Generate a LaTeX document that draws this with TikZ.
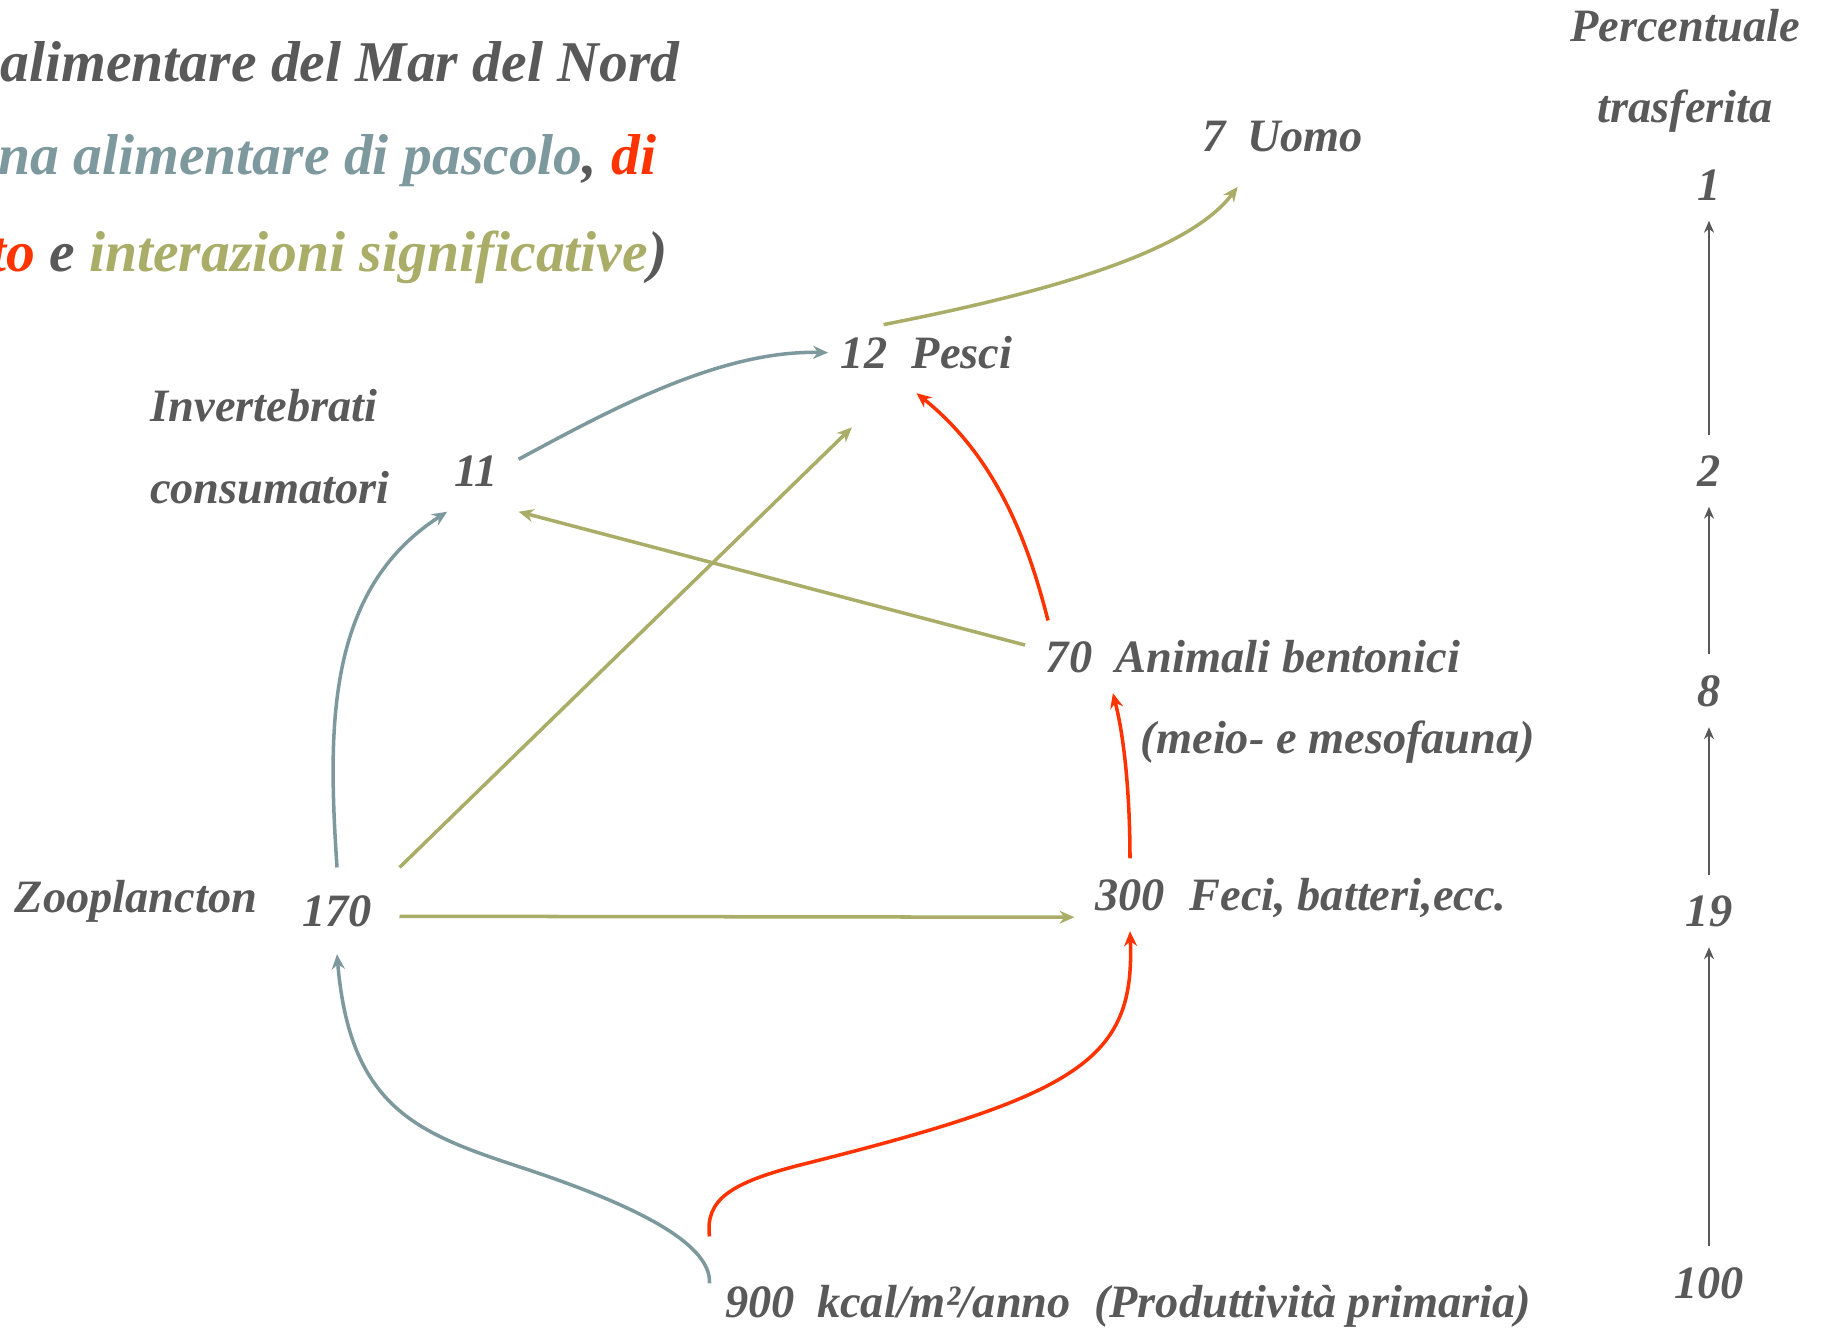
\documentclass[tikz,border=0pt]{standalone}
\usepackage{fontspec}
\setmainfont{Liberation Serif}
\usetikzlibrary{arrows.meta}
\definecolor{txtgray}{RGB}{89,89,89}
\definecolor{pascolo}{RGB}{126,153,158}
\definecolor{detrito}{RGB}{255,51,0}
\definecolor{interaz}{RGB}{169,173,104}
\tikzset{lbl/.style={anchor=base,inner sep=0pt,text=txtgray,font=\fontsize{13.2}{16}\selectfont\bfseries\itshape},
  num node/.style={lbl,inner sep=#1},
  titolo/.style={anchor=base east,inner sep=0pt,text=txtgray,font=\fontsize{16.4}{20}\selectfont\bfseries\itshape},
  flow/.style={line width=1pt,-{Stealth[length=1.5mm,width=1.3mm]}},
  perc/.style={line width=0.6pt,draw=txtgray,-{Stealth[length=1.2mm,width=1mm]}},}

\begin{document}
\begin{tikzpicture}[x=0.1mm,y=-0.1mm]
    \useasboundingbox (0,0) rectangle (1822,1329);
    % titolo
    \node[titolo] (t1) at (680,81) {alimentare del Mar del Nord};
    \node[titolo] (t2) at (657,174) {\textcolor{pascolo}{na alimentare di pascolo}, \textcolor{detrito}{di}};
    \node[titolo] (t3) at (668,271) {\textcolor{detrito}{to} e \textcolor{interaz}{interazioni significative})};

    % livelli trofici
    \node[num node=3.5mm] (n7) at (1214,151) {7};
    \node[lbl] (uomo) at (1305,151) {Uomo};
    \node[num node=1.2mm] (n12) at (864,368) {12};
    \node[lbl,inner sep=2.4mm] (pesci) at (962,368) {Pesci};
    \node[lbl] (invert) at (264,421) {Invertebrati};
    \node[lbl] (consum) at (270,503) {consumatori};
    \node[num node=2.5mm,inner xsep=2mm] (n11) at (476,486) {11};
    \node[num node=2mm] (n70) at (1069,672) {70};
    \node[lbl] (bent) at (1288,672) {Animali bentonici};
    \node[lbl] (meio) at (1338,753) {(meio- e mesofauna)};
    \node[lbl] (zoo) at (136,912) {Zooplancton};
    \node[num node=2.7mm] (n170) at (337,926) {170};
    \node[num node=2mm] (n300) at (1130,910) {300};
    \node[lbl] (feci) at (1348,910) {Feci, batteri,ecc.};
    \node[num node=0pt,inner xsep=1.5mm,inner ysep=4.9mm] (n900) at (760,1317) {900};
    \node[lbl] (prod) at (1174,1317) {kcal/m²/anno~~(Produttività primaria)};

    % percentuale trasferita
    \node[lbl] (perc) at (1685,41) {Percentuale};
    \node[lbl] (trasf) at (1685,122) {trasferita};
    \node[num node=2mm] (p1) at (1709,200) {1};
    \node[num node=2mm] (p2) at (1709,486) {2};
    \node[num node=2mm] (p8) at (1709,706) {8};
    \node[num node=2mm] (p19) at (1709,926) {19};
    \node[num node=2mm] (p100) at (1709,1298) {100};

    \draw[perc] (p100.north) -- (p19.south);
    \draw[perc] (p19.north) -- (p8.south);
    \draw[perc] (p8.north) -- (p2.south);
    \draw[perc] (p2.north) -- (p1.south);

    % catena di pascolo
    \draw[flow,pascolo] (n900.160) .. controls (712,1240) and (620,1200) .. (523,1168)
        .. controls (420,1134) and (350,1110) .. (n170.south);
    \draw[flow,pascolo] (n170.north) .. controls (328,730) and (325,590) .. (n11.-125);
    \draw[flow,pascolo] (n11.15) .. controls (610,410) and (720,350) .. (n12.west);
    % catena di detrito
    \draw[flow,detrito] (n900.north west) .. controls (705,1200) and (730,1183) .. (800,1165)
        .. controls (1080,1095) and (1135,1060) .. (n300.south);
    \draw[flow,detrito] (n300.north) .. controls (1130,800) and (1125,740) .. (n70.south east);
    \draw[flow,detrito] (n70.120) .. controls (1030,550) and (1000,460) .. (pesci.-138);
    % interazioni
    \draw[flow,interaz] (n170.-5) -- (n300.-158);
    \draw[flow,interaz,shorten >=4.9mm] (n170.north east) -- (pesci.south west);
    \draw[flow,interaz] (n70.165) -- (n11.south east);
    \draw[flow,interaz] (n12.55) .. controls (1060,290) and (1190,250) .. (n7.-65);
\end{tikzpicture}
\end{document}
